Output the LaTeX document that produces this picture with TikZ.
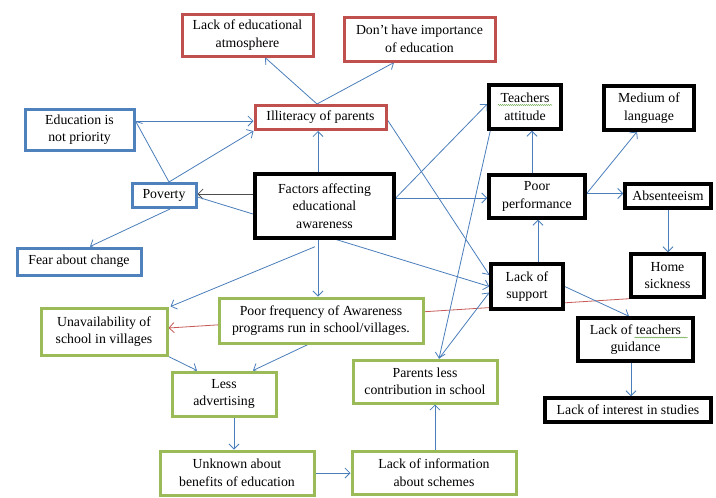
\documentclass[tikz,border=0pt]{standalone}
\usepackage{fontspec}
\setmainfont{Liberation Serif}
\usetikzlibrary{arrows.meta,decorations.pathmorphing,backgrounds}
\definecolor{bred}{HTML}{C0504D}
\definecolor{bblue}{HTML}{4F81BD}
\definecolor{bgreen}{HTML}{9BBB59}
\definecolor{ablue}{HTML}{4A7EBB}
\definecolor{ared}{HTML}{C65A57}
\definecolor{agray}{HTML}{4D4D4D}
\definecolor{spellgreen}{HTML}{4E9A2A}
\begin{document}
\begin{tikzpicture}[x=1pt,y=-1pt,
  font=\fontsize{13.8}{17.5}\selectfont,
  box/.style={draw, line width=3pt, fill=white, align=center, inner sep=0pt},
  redbox/.style={box, draw=bred},
  bluebox/.style={box, draw=bblue},
  greenbox/.style={box, draw=bgreen},
  blackbox/.style={box, draw=black, line width=3.4pt},
  conn/.style={draw=ablue, line width=0.8pt, -{Straight Barb[length=5pt,width=10pt]}},
  redconn/.style={conn, draw=ared},
  grayconn/.style={conn, draw=agray},
  spell/.style={draw=spellgreen, line width=0.5pt, decorate, decoration={snake, amplitude=0.5pt, segment length=2pt}}
]
\useasboundingbox (0,0) rectangle (716,498);

% boxes
\node[redbox, minimum width=131pt, minimum height=42pt] (atm) at (247.5,35) {Lack of educational\\atmosphere};
\node[redbox, minimum width=151pt, minimum height=44pt] (imp) at (419.5,39) {Don't have importance\\of education};
\node[redbox, minimum width=131pt, minimum height=24pt] (ill) at (320.5,117.5) {Illiteracy of parents};
\node[bluebox, minimum width=109pt, minimum height=41pt] (edu) at (79.5,129.5) {Education is\\not priority};
\node[bluebox, minimum width=64pt, minimum height=24pt] (pov) at (164,195.5) {Poverty};
\node[bluebox, minimum width=124pt, minimum height=27pt] (fear) at (79,261.5) {Fear about change};
\node[blackbox, minimum width=139pt, minimum height=64pt] (fac) at (324.5,206) {Factors affecting\\educational\\awareness};
\node[blackbox, minimum width=72pt, minimum height=44pt] (ta) at (525,107) {Teachers\\attitude};
\node[blackbox, minimum width=90pt, minimum height=44pt] (med) at (649,108) {Medium of\\language};
\node[blackbox, minimum width=96pt, minimum height=43pt] (pp) at (537,196.5) {Poor\\performance};
\node[blackbox, minimum width=86pt, minimum height=24pt] (abs) at (668,196) {Absenteeism};
\node[blackbox, minimum width=73pt, minimum height=43pt] (home) at (667.5,275.5) {Home\\sickness};
\node[blackbox, minimum width=72pt, minimum height=45pt] (sup) at (527,286.5) {Lack of\\support};
\node[blackbox, minimum width=115pt, minimum height=43pt] (ltg) at (635.5,339.5) {Lack of teachers\\guidance};
\node[blackbox, minimum width=166pt, minimum height=24pt] (lis) at (628,410) {Lack of interest in studies};
\node[greenbox, minimum width=204pt, minimum height=45pt] (pf) at (321,320.5) {Poor frequency of Awareness\\programs run in school/villages.};
\node[greenbox, minimum width=126pt, minimum height=47pt] (una) at (104,331.5) {Unavailability of\\school in villages};
\node[greenbox, minimum width=104pt, minimum height=44pt] (less) at (224,394) {Less\\advertising};
\node[greenbox, minimum width=154pt, minimum height=44pt] (unk) at (237,473) {Unknown about\\benefits of education};
\node[greenbox, minimum width=164pt, minimum height=43pt] (info) at (434,472.5) {Lack of information\\about schemes};
\node[greenbox, minimum width=144pt, minimum height=43pt] (par) at (425,381.5) {Parents less\\contribution in school};

% spell-check underlines
\draw[spell] ([xshift=-27pt,yshift=2pt]ta.center) -- ([xshift=27pt,yshift=2pt]ta.center);
\draw[spell] ([xshift=-1pt,yshift=2pt]ltg.center) -- ([xshift=52pt,yshift=2pt]ltg.center);

\begin{scope}[on background layer]
\fill[white] (0,0) rectangle (716,498);
% red long connector (behind boxes)
\draw[redconn] (home.south west) -- ([yshift=3.5pt]una.east);
% illiteracy cluster
\draw[conn] ([xshift=-3.5pt]ill.north) -- ([xshift=17.5pt]atm.south);
\draw[conn] ([xshift=-3.5pt]ill.north) -- ([xshift=-25.5pt]imp.south);
\coordinate (e1) at ([yshift=8.5pt]edu.east);
\draw[conn] (e1) -- (e1 -| ill.west);
\draw[conn] ([xshift=5pt]pov.north) -- (e1);
\draw[conn] ([xshift=5pt]pov.north) -- (ill.south west);
\coordinate (f1) at ([yshift=12pt]fac.west);
\draw[grayconn] (f1) -- (f1 -| pov.east);
\coordinate (f2) at ([xshift=-6.5pt]fac.north);
\draw[conn] (f2) -- (f2 |- ill.south);
\draw[conn] ([xshift=6pt]pov.south) -- ([xshift=11pt]fear.north);
\draw[conn] ([yshift=-1.5pt]pov.east) -- (sup.west);
\draw[conn] ([yshift=-2.5pt]ill.east) -- ([yshift=11.5pt]sup.west);
% factors to right
\coordinate (f3) at ([yshift=8pt]fac.east);
\draw[conn] (f3) -- ([yshift=3pt]ta.west);
\draw[conn] (f3) -- (f3 -| pp.west);
\coordinate (p1) at ([xshift=-5pt]pp.north);
\draw[conn] (p1) -- (p1 |- ta.south);
\coordinate (p2) at ([yshift=3pt]pp.east);
\draw[conn] (p2) -- ([xshift=-12pt]med.south);
\draw[conn] (p2) -- (p2 -| abs.west);
\draw[conn] (abs.south) -- (abs.south |- home.north);
\coordinate (s1) at ([xshift=11pt]sup.north);
\draw[conn] (s1) -- (s1 |- pp.south);
\draw[conn] (sup.east) -- ([xshift=-6.5pt]ltg.north);
\coordinate (l1) at ([xshift=-4.5pt]ltg.south);
\draw[conn] (l1) -- (l1 |- lis.north);
% factors downward
\coordinate (fs) at ([xshift=-9.5pt,yshift=-7pt]fac.south);
\draw[conn] (fs) -- ([xshift=2pt]una.north east);
\coordinate (f4) at ([xshift=-6.5pt]fac.south);
\draw[conn] (f4) -- (f4 |- pf.north);
\draw[conn] ([xshift=-13pt]pf.south) -- ([xshift=29pt]less.north);
\draw[conn] (una.south east) -- ([xshift=-27pt]less.north);
\coordinate (a1) at ([xshift=10pt]less.south);
\draw[conn] (a1) -- (a1 |- unk.north);
\draw[conn] (unk.east) -- (unk.east -| info.west);
\coordinate (i1) at ([xshift=1pt]info.north);
\draw[conn] (i1) -- (i1 |- par.south);
\draw[conn] ([xshift=3pt]ta.south west) -- ([xshift=14pt]par.north);
\draw[conn] ([xshift=14pt]par.north) -- ([yshift=-6pt]sup.west);
\end{scope}
\end{tikzpicture}
\end{document}
